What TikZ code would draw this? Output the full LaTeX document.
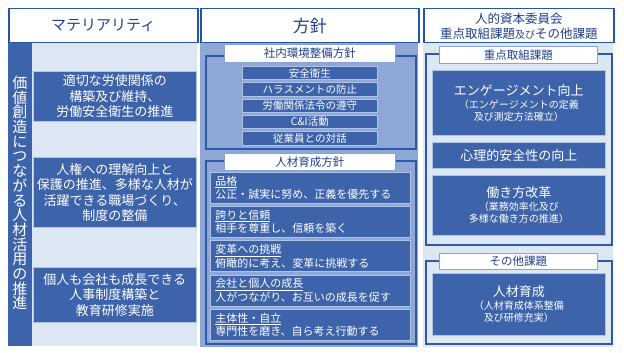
\documentclass[tikz,border=0pt]{standalone}
\usepackage{fontspec}
\setmainfont{Noto Sans CJK JP}
\definecolor{boxblue}{HTML}{3D63AB}
\definecolor{boxline}{HTML}{AFC3E6}
\definecolor{midbg}{HTML}{8FA7D7}
\definecolor{lightbg}{HTML}{DDE6F3}
\definecolor{frameline}{HTML}{2D5AA8}
\definecolor{hdrline}{HTML}{2555A3}
\definecolor{hdrtext}{HTML}{1F3F8F}
\newcommand{\bgtxt}{\fontsize{13}{16}\selectfont}
\newcommand{\smtxt}{\fontsize{10}{12.5}\selectfont}
\newcommand{\ulin}[1]{\setbox0\hbox{#1}\rlap{\raisebox{-2.6pt}{\rule{\wd0}{0.9pt}}}\box0}
\tikzset{
  darkbox/.style={draw=boxline, line width=0.7pt, fill=boxblue, text=white, anchor=north west, align=center, inner sep=1pt},
  hdrbox/.style={draw=hdrline, line width=1.5pt, fill=white, text=hdrtext, anchor=north west, align=center, inner sep=1pt},
  labbox/.style={draw=boxline!70!frameline, line width=0.8pt, fill=white, text=hdrtext, anchor=north west, align=center, inner sep=0pt},
  framebox/.style={draw=frameline, line width=1.8pt, anchor=north west, inner sep=0pt},
  itembox/.style={darkbox, minimum width=200pt, minimum height=31pt, text width=190pt, align=left, inner xsep=5pt,
     font=\fontsize{11}{13.2}\selectfont},
  polbox/.style={darkbox, minimum width=135pt, minimum height=13.5pt, font=\fontsize{10.5}{12}\selectfont},
}
\begin{document}
\begin{tikzpicture}[x=1pt,y=-1pt]
\useasboundingbox[fill=white] (0,0) rectangle (624,353);
% ---------- left column ----------
\fill[lightbg] (8,42) rectangle (197,346);
\fill[boxblue] (8,42) rectangle (32,346);
\node[hdrbox, minimum width=189pt, minimum height=34pt, font=\fontsize{15}{17}\selectfont] (h1) at (8,8) {マテリアリティ};
\node[text=white, align=center, font=\fontsize{15}{14.7}\selectfont, inner sep=0pt] (vt) at (20,193)
 {価\\値\\創\\造\\に\\つ\\な\\が\\る\\人\\材\\活\\用\\の\\推\\進};
\node[darkbox, minimum width=163pt, minimum height=50pt, font=\fontsize{13}{15.5}\selectfont] (m1) at (33,71)
 {適切な労使関係の\\構築及び維持、\\労働安全衛生の推進};
\node[darkbox, minimum width=163pt, minimum height=70pt, font=\fontsize{13}{15.5}\selectfont] (m2) at (33,157)
 {人権への理解向上と\\保護の推進、多様な人材が\\活躍できる職場づくり、\\制度の整備};
\node[darkbox, minimum width=163pt, minimum height=55pt, font=\fontsize{13}{15.5}\selectfont] (m3) at (33,267)
 {個人も会社も成長できる\\人事制度構築と\\教育研修実施};
% ---------- middle column ----------
\fill[midbg] (200,42) rectangle (418,347);
\node[hdrbox, minimum width=218pt, minimum height=34pt, font=\fontsize{17}{19}\selectfont] (h2) at (200,8) {方針};
\node[framebox, minimum width=210pt, minimum height=93pt] (f1) at (205,55) {};
\node[labbox, minimum width=171pt, minimum height=18pt, font=\fontsize{11.5}{13}\selectfont] (l1) at (224,44) {社内環境整備方針};
\node[polbox] (p1) at (242,66) {安全衛生};
\node[polbox] (p2) at (242,82.3) {ハラスメントの防止};
\node[polbox] (p3) at (242,98.6) {労働関係法令の遵守};
\node[polbox] (p4) at (242,114.9) {C\&I活動};
\node[polbox] (p5) at (242,131.2) {従業員との対話};
\node[framebox, minimum width=210pt, minimum height=183pt] (f2) at (205,160) {};
\node[labbox, minimum width=171pt, minimum height=17pt, font=\fontsize{11.5}{13}\selectfont] (l2) at (224,153) {人材育成方針};
\node[itembox] (q1) at (210,172) {\ulin{品格}\\公正・誠実に努め、正義を優先する};
\node[itembox] (q2) at (210,206.2) {\ulin{誇りと信頼}\\相手を尊重し、信頼を築く};
\node[itembox] (q3) at (210,240.4) {\ulin{変革への挑戦}\\俯瞰的に考え、変革に挑戦する};
\node[itembox] (q4) at (210,274.6) {\ulin{会社と個人の成長}\\人がつながり、お互いの成長を促す};
\node[itembox] (q5) at (210,308.8) {\ulin{主体性・自立}\\専門性を磨き、自ら考え行動する};
% ---------- right column ----------
\fill[lightbg] (423,42) rectangle (613,347);
\node[hdrbox, minimum width=190pt, minimum height=34pt, font=\fontsize{12.5}{15}\selectfont] (h3) at (423,8)
 {人的資本委員会\\重点取組課題\smtxt 及び\fontsize{12.5}{15}\selectfont その他課題};
\node[framebox, minimum width=186pt, minimum height=191pt] (f3) at (425,53) {};
\node[labbox, minimum width=158pt, minimum height=17pt, font=\fontsize{11.5}{13}\selectfont] (l3) at (439,46) {重点取組課題};
\node[darkbox, minimum width=173pt, minimum height=65pt] (r1) at (432,70)
 {\bgtxt エンゲージメント向上\\[1pt]\smtxt （エンゲージメントの定義\\\smtxt 及び測定方法確立）};
\node[darkbox, minimum width=173pt, minimum height=26pt, font=\fontsize{13}{15}\selectfont] (r2) at (432,142) {心理的安全性の向上};
\node[darkbox, minimum width=173pt, minimum height=60pt] (r3) at (432,175)
 {\bgtxt 働き方改革\\[1pt]\smtxt （業務効率化及び\\\smtxt 多様な働き方の推進）};
\node[framebox, minimum width=186pt, minimum height=83pt] (f4) at (425,260) {};
\node[labbox, minimum width=158pt, minimum height=16pt, font=\fontsize{11.5}{13}\selectfont] (l4) at (439,253) {その他課題};
\node[darkbox, minimum width=173pt, minimum height=62pt] (r4) at (432,273)
 {\bgtxt 人材育成\\[1pt]\smtxt （人材育成体系整備\\\smtxt 及び研修充実）};
\end{tikzpicture}
\end{document}
